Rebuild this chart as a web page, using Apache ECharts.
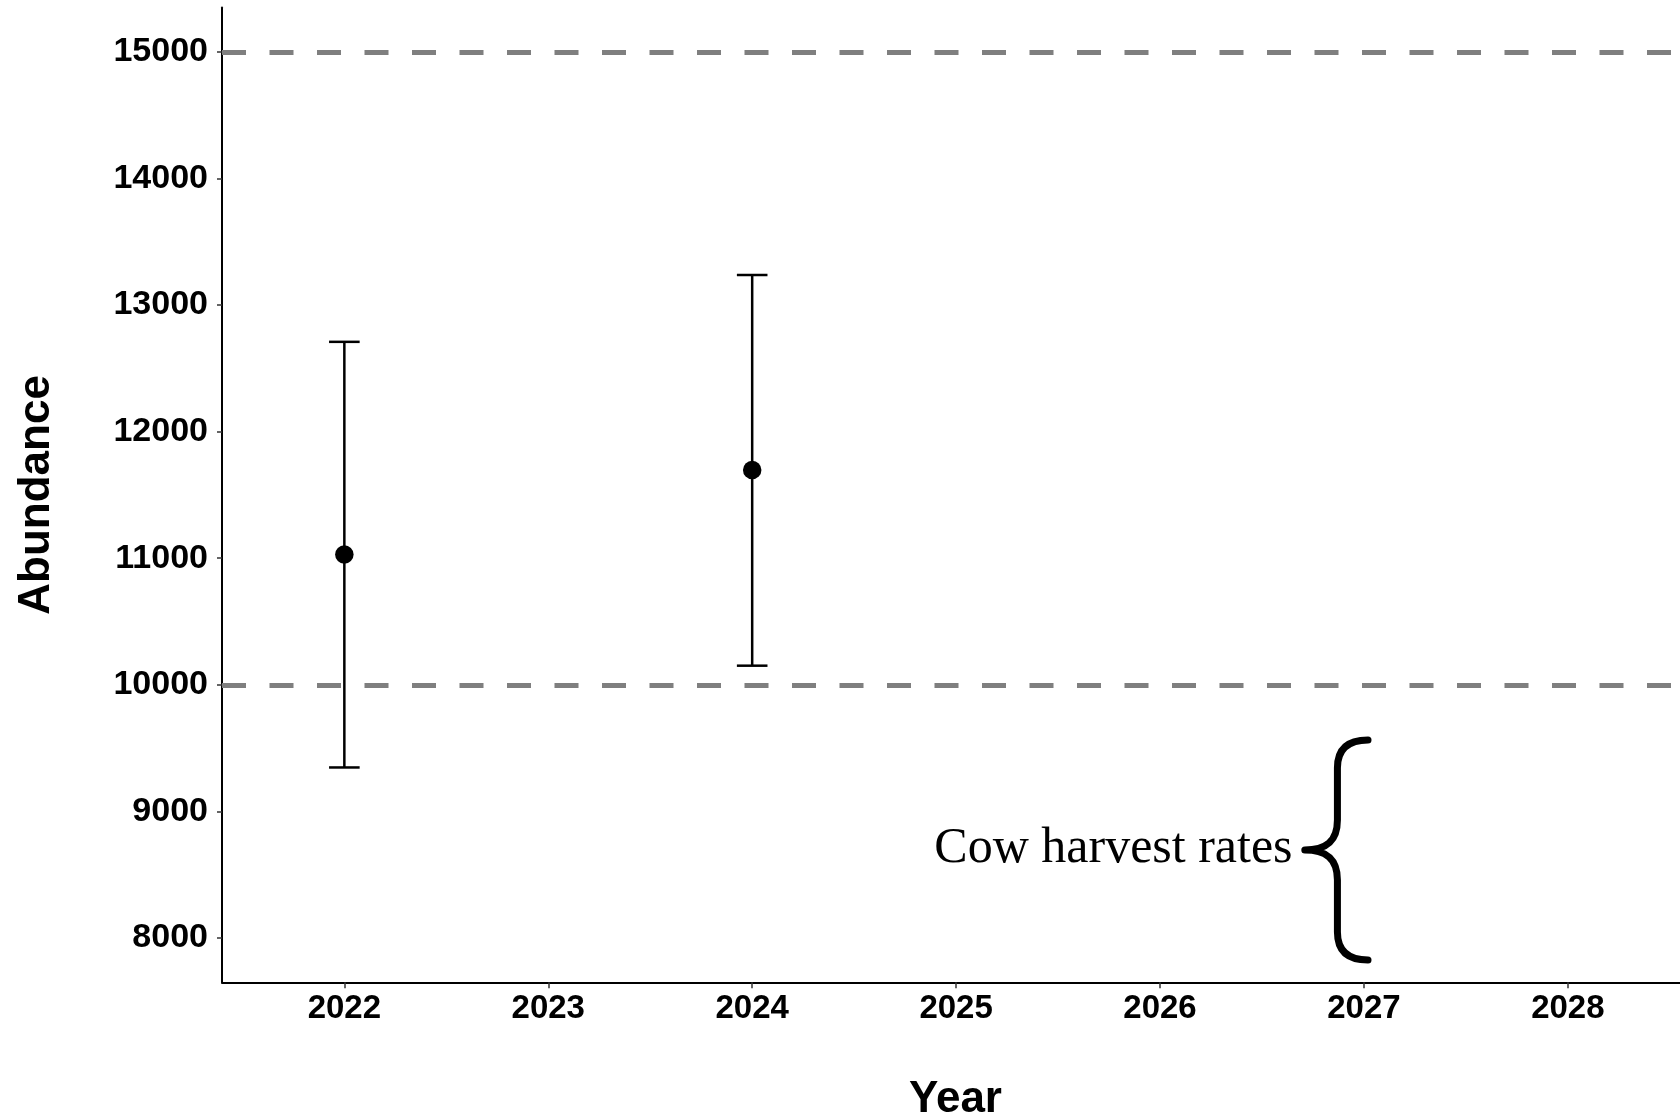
<!DOCTYPE html>
<html>
<head>
<meta charset="utf-8">
<script src="https://cdn.jsdelivr.net/npm/echarts@6/dist/echarts.min.js"></script>
<style>
  html, body { margin: 0; padding: 0; background: #ffffff; }
  #chart { width: 1680px; height: 1120px; }
</style>
</head>
<body>
<div id="chart"></div>
<script>
// ---- data ----
const years = [2022, 2024];
const abundance = [11029, 11697];
const lowerCI = [9347, 10151];
const upperCI = [12709, 13237];
const thresholds = [10000, 15000];
const xTicks = [2022, 2023, 2024, 2025, 2026, 2027, 2028];
const yTicks = [8000, 9000, 10000, 11000, 12000, 13000, 14000, 15000];
const annotationText = 'Cow harvest rates';
// brace: [x of ends, top, bottom, x of stem, x of tip]
const brace = [[2027.02, 9564, 7826, 2026.87, 2026.71]];
const annotationAnchor = [2026.65, 8705];

const chart = echarts.init(document.getElementById('chart'), null, { renderer: 'canvas' });

const axisFont = 'Liberation Sans, Arial, sans-serif';

const option = {
  backgroundColor: '#ffffff',
  animation: false,
  grid: { left: 222, right: 0, top: 7.5, bottom: 137.7, containLabel: false, outerBoundsMode: 'none' },
  xAxis: {
    type: 'value',
    min: 2021.4,
    max: 2028.55,
    name: 'Year',
    nameLocation: 'middle',
    nameGap: 96,
    nameTextStyle: { fontFamily: axisFont, fontWeight: 'bold', fontSize: 44, color: '#000', padding: [0, 0, 0, 9] },
    axisLine: { show: true, onZero: false, lineStyle: { color: '#000', width: 2 } },
    axisTick: { show: true, length: 6, customValues: xTicks, lineStyle: { color: '#333', width: 1.5 } },
    axisLabel: { customValues: xTicks, margin: 10, fontFamily: axisFont, fontWeight: 'bold', fontSize: 33, color: '#000',
                 formatter: v => String(v) },
    splitLine: { show: false }
  },
  yAxis: {
    type: 'value',
    min: 7650,
    max: 15350,
    name: 'Abundance',
    nameLocation: 'middle',
    nameGap: 163,
    nameTextStyle: { fontFamily: axisFont, fontWeight: 'bold', fontSize: 44, color: '#000' },
    axisLine: { show: true, onZero: false, lineStyle: { color: '#000', width: 2 } },
    axisTick: { show: true, length: 5, customValues: yTicks, lineStyle: { color: '#333', width: 1.5 } },
    axisLabel: { customValues: yTicks, margin: 14, fontFamily: axisFont, fontWeight: 'bold', fontSize: 34, color: '#000',
                 formatter: v => String(v) },
    splitLine: { show: false }
  },
  series: [
    {
      type: 'line',
      data: [],
      silent: true,
      markLine: {
        silent: true,
        symbol: ['none', 'none'],
        label: { show: false },
        lineStyle: { color: '#7f7f7f', width: 5, type: [24, 23.5], cap: 'butt', opacity: 1 },
        data: thresholds.map(v => ({ yAxis: v }))
      }
    },
    {
      type: 'custom',
      name: 'CI',
      data: years.map((y, i) => [y, lowerCI[i], upperCI[i]]),
      encode: { x: 0, y: [1, 2] },
      renderItem: function (params, api) {
        const x = api.value(0);
        const pLo = api.coord([x, api.value(1)]);
        const pHi = api.coord([x, api.value(2)]);
        const hw = 15.3;
        const st = { stroke: '#000', lineWidth: 2.5 };
        return {
          type: 'group',
          children: [
            { type: 'line', shape: { x1: pLo[0], y1: pLo[1], x2: pHi[0], y2: pHi[1] }, style: st },
            { type: 'line', shape: { x1: pLo[0] - hw, y1: pLo[1], x2: pLo[0] + hw, y2: pLo[1] }, style: st },
            { type: 'line', shape: { x1: pHi[0] - hw, y1: pHi[1], x2: pHi[0] + hw, y2: pHi[1] }, style: st }
          ]
        };
      },
      z: 3
    },
    {
      type: 'scatter',
      name: 'Abundance',
      data: years.map((y, i) => [y, abundance[i]]),
      symbol: 'circle',
      symbolSize: 18.5,
      itemStyle: { color: '#000', opacity: 1 },
      z: 4
    },
    {
      type: 'custom',
      name: 'brace',
      data: brace,
      encode: { x: [0, 3, 4], y: [1, 2] },
      clip: false,
      renderItem: function (params, api) {
        const xe = api.value(0), yt = api.value(1), yb = api.value(2), xs = api.value(3), xt = api.value(4);
        const pTop = api.coord([xe, yt]);
        const pBot = api.coord([xe, yb]);
        const sx = api.coord([xs, yt])[0];
        const tx = api.coord([xt, yt])[0];
        const ex = pTop[0];
        const ty = pTop[1], by = pBot[1];
        const my = (ty + by) / 2;
        const r = 28;
        const path =
          'M' + ex + ' ' + ty +
          ' Q' + sx + ' ' + ty + ' ' + sx + ' ' + (ty + r) +
          ' L' + sx + ' ' + (my - 30) +
          ' C' + sx + ' ' + (my - 8) + ' ' + (sx - 12) + ' ' + my + ' ' + tx + ' ' + my +
          ' C' + (sx - 12) + ' ' + my + ' ' + sx + ' ' + (my + 8) + ' ' + sx + ' ' + (my + 30) +
          ' L' + sx + ' ' + (by - r) +
          ' Q' + sx + ' ' + by + ' ' + ex + ' ' + by;
        const tp = api.coord(annotationAnchor);
        return {
          type: 'group',
          children: [
            { type: 'path', shape: { pathData: path }, style: { stroke: '#000', lineWidth: 7, fill: null, lineCap: 'round', lineJoin: 'round' } },
            { type: 'text', style: { text: annotationText, x: tp[0], y: tp[1], align: 'right', verticalAlign: 'middle',
                                     font: '50px "Liberation Serif", "Times New Roman", serif', fill: '#000' } }
          ]
        };
      },
      z: 5
    }
  ]
};

chart.setOption(option);
</script>
</body>
</html>
